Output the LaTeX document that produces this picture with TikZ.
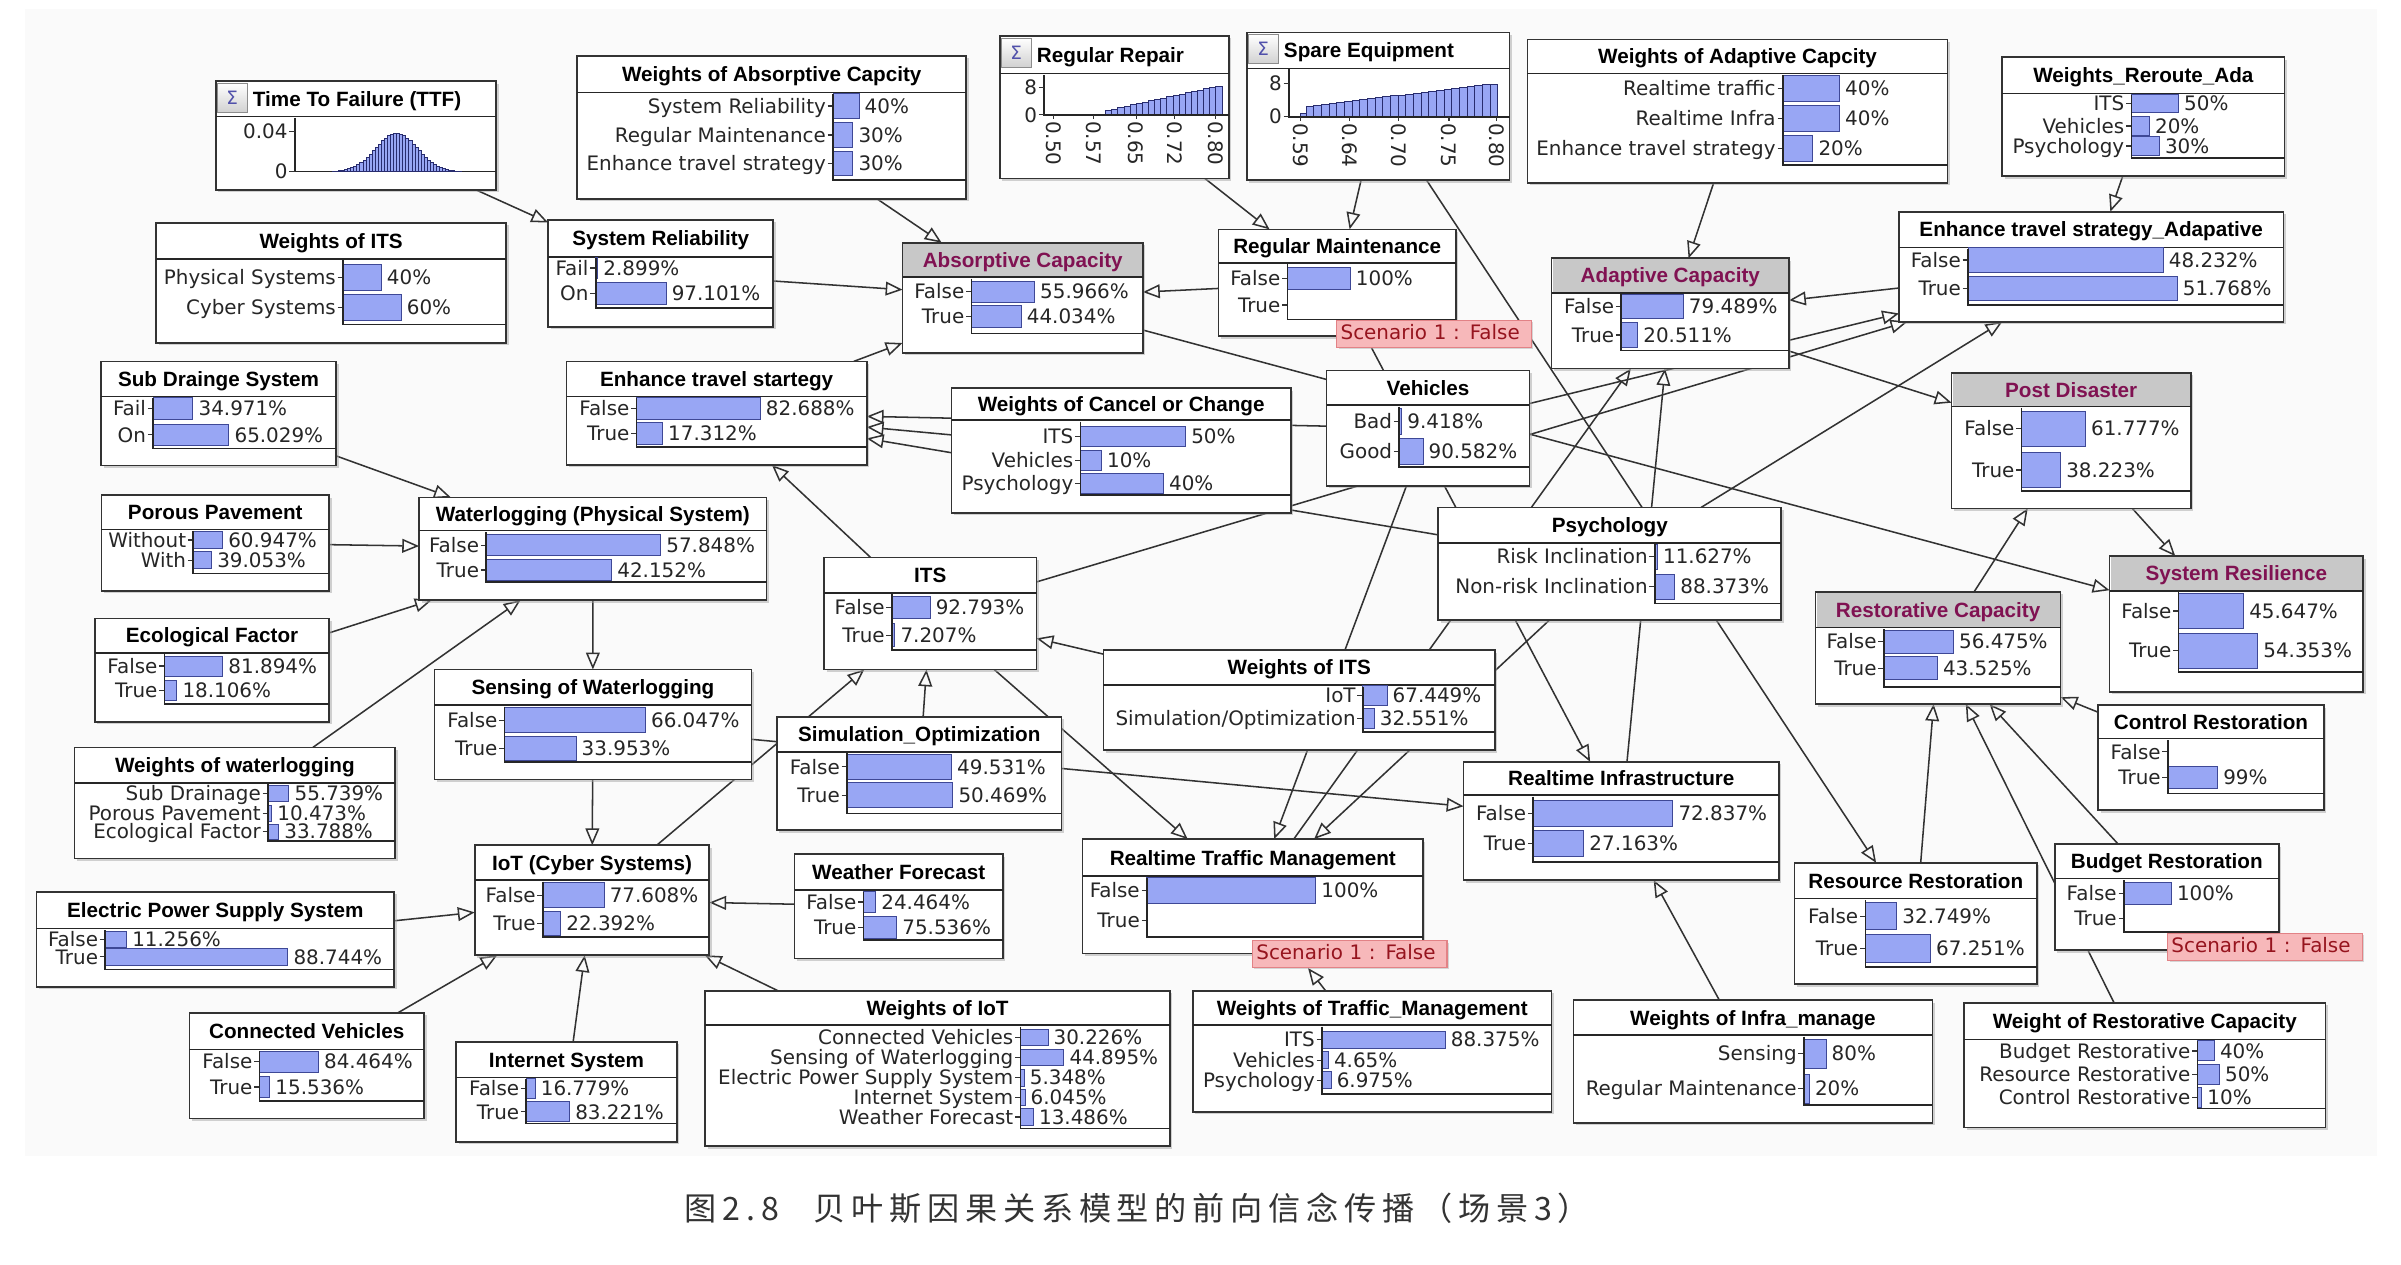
\documentclass[tikz,border=0pt]{standalone}
\usepackage{fontspec}
\setmainfont{DejaVu Sans}
\newfontfamily\titlefont{Liberation Sans}
\newfontfamily\cjkfont[LetterSpace=18]{Noto Sans CJK SC}
\usetikzlibrary{arrows.meta,positioning,shadows,backgrounds}

\definecolor{bnbar}{RGB}{152,166,244}
\definecolor{bnbarline}{RGB}{62,72,150}
\definecolor{bnnavy}{RGB}{40,44,110}
\definecolor{bnpurple}{RGB}{128,18,82}
\definecolor{bnband}{RGB}{200,200,200}
\definecolor{bnsig}{RGB}{80,80,170}
\definecolor{scenfill}{RGB}{247,184,186}
\definecolor{scenline}{RGB}{226,130,134}
\definecolor{scentext}{RGB}{150,20,30}
\definecolor{linkgray}{RGB}{50,50,50}
\definecolor{panel}{RGB}{250,250,250}

% box with title rule: name, x, y, width, height, rule offset, title
\newcommand{\bnbox}[7]{%
  \node[bnbox, minimum width=#4pt, minimum height=#5pt] (#1) at (#2,#3) {};
  \draw[bnrule] (#2,#3+#6) -- (#2+#4,#3+#6);
  \node[bntitle] (#1-t) at (#2+#4/2,#3+#6/2+4.8) {#7};}
% same, grey band and purple title
\newcommand{\bncap}[7]{%
  \node[bnbox, minimum width=#4pt, minimum height=#5pt] (#1) at (#2,#3) {};
  \fill[bnband] (#2+0.6,#3+0.6) rectangle (#2+#4-0.6,#3+#6);
  \draw[bnrule] (#2,#3+#6) -- (#2+#4,#3+#6);
  \node[bntitle, text=bnpurple] (#1-t) at (#2+#4/2,#3+#6/2+4.8) {#7};}
% box with sigma icon
\newcommand{\bnchart}[7]{%
  \node[bnbox, minimum width=#4pt, minimum height=#5pt] (#1) at (#2,#3) {};
  \draw[bnrule] (#2,#3+#6) -- (#2+#4,#3+#6);
  \node[sigbox] (#1-sig) at (#2+1,#3+1) {Σ};
  \node[bntitle, anchor=base west] (#1-t) at (#2+24,#3+#6/2+4.8) {#7};}
% one state: name, index, bar x, y, bar length, state, value
\newcommand{\bnrow}[7]{%
  \node[bnlab] (#1-s#2) at (#3-4.5,#4+4.7) {#6};
  \draw[bntick] (#3-3.5,#4) -- (#3,#4);
  \ifdim #5pt>0pt \draw[bnbar] (#3,#4-\bnh/2) rectangle (#3+#5,#4+\bnh/2);\fi
  \node[bnval] (#1-v#2) at (#3+#5+3.5,#4+4.7) {#7};}
% bar axis: x, top, bottom, right end
\newcommand{\bnaxis}[4]{\draw[bnaxis] (#1,#2) -- (#1,#3) -- (#4,#3);}

\begin{document}
\begin{tikzpicture}[x=1pt,y=-1pt,
  bnbox/.style={draw=black!80, fill=white, line width=1.1pt, anchor=north west, inner sep=0pt, outer sep=0pt,
    drop shadow={shadow xshift=1.6pt, shadow yshift=-1.6pt, fill=black!35}},
  bnrule/.style={draw=black!85, line width=1pt},
  bnband/.style={fill=bnband},
  bntitle/.style={anchor=base, inner sep=0pt, font=\titlefont\bfseries\fontsize{13.5}{15}\selectfont},
  bnlab/.style={anchor=base east, inner sep=0pt, font=\fontsize{13}{15}\selectfont, text=black!85},
  bnval/.style={anchor=base west, inner sep=0pt, font=\fontsize{13}{15}\selectfont, text=black!85},
  bntick/.style={draw=black!80, line width=0.8pt},
  bnbar/.style={fill=bnbar, draw=bnbarline, line width=0.6pt},
  bnaxis/.style={draw=black!85, line width=1.1pt},
  chartbar/.style={fill=bnbar, draw=bnnavy, line width=0.5pt},
  sigbox/.style={anchor=north west, minimum width=19pt, minimum height=19pt, inner sep=0pt, draw=black!45,
    top color=white, bottom color=black!18, text=bnsig, font=\fontsize{12}{12}\selectfont},
  scen/.style={anchor=north west, draw=scenline, fill=scenfill, text=scentext, line width=0.8pt,
    minimum height=17.5pt, text width=122pt, inner xsep=2.5pt, inner ysep=0pt, align=left,
    text height=9.5pt, text depth=2.5pt, font=\fontsize{13}{15}\selectfont,
    drop shadow={shadow xshift=1.2pt, shadow yshift=-1.2pt, fill=black!30}},
  link/.style={draw=linkgray, line width=1pt, -{Triangle[open, length=11pt, width=9pt]}},
  caption/.style={anchor=base west, inner sep=0pt, font=\cjkfont\fontsize{21}{25}\selectfont, text=black!80}]
\useasboundingbox (0,0) rectangle (1568,826);

% continuous nodes
\bnchart{ttf}{141}{53}{183}{71}{23}{Time To Failure (TTF)}
\draw[bnaxis] (192.5,77) -- (192.5,112) -- (324,112);
\foreach \yy/\lab [count=\k] in {86/0.04,112/0} {\draw[bntick] (189,\yy) -- (192.5,\yy); \node[bnlab] (ttf-y\k) at (188,\yy+4.7) {\lab};}
\foreach \bx in {218,220,...,300} {\pgfmathsetmacro\bnhh{25*exp(-((\bx-259)*(\bx-259))/364.5)}
  \draw[chartbar] (\bx-1,112) rectangle (\bx+1,112-\bnhh);}

\bnchart{rrepair}{653}{23.5}{149.5}{93}{24.5}{Regular Repair}
\foreach \bx in {722,726,...,794} {\pgfmathsetmacro\bnhh{min(3+(\bx-722)*0.22,20)}
  \draw[chartbar] (\bx,75) rectangle (\bx+4,75-\bnhh);}
\draw[bnaxis] (682,49) -- (682,75) -- (802.5,75);
\foreach \yy/\lab [count=\k] in {57/8,75/0} {\draw[bntick] (678.5,\yy) -- (682,\yy); \node[bnlab] (rrepair-y\k) at (677.5,\yy+4.7) {\lab};}
\foreach \xx/\lab [count=\k] in {688/0.50,714/0.57,742/0.65,767/0.72,794/0.80} {\draw[bntick] (\xx,75) -- (\xx,78);
  \node[bnlab, anchor=west, rotate=-90] (rrepair-x\k) at (\xx,79) {\lab};}

\bnchart{spare}{814.3}{21.3}{171.5}{96.3}{23.3}{Spare Equipment}
\draw[chartbar] (849,76.2) rectangle (853,74);
\foreach \bx in {853,858,...,973} {\pgfmathsetmacro\bnhh{7+(\bx-853)*0.12}
  \draw[chartbar] (\bx,76.2) rectangle (\bx+5,76.2-\bnhh);}
\draw[bnaxis] (841.8,45) -- (841.8,76.2) -- (985.8,76.2);
\foreach \yy/\lab [count=\k] in {54.4/8,76.2/0} {\draw[bntick] (838.3,\yy) -- (841.8,\yy); \node[bnlab] (spare-y\k) at (837.3,\yy+4.7) {\lab};}
\foreach \xx/\lab [count=\k] in {849.3/0.59,881.3/0.64,913.3/0.70,946.3/0.75,977.5/0.80} {\draw[bntick] (\xx,76.2) -- (\xx,79.2);
  \node[bnlab, anchor=west, rotate=-90] (spare-x\k) at (\xx,80.2) {\lab};}

% weights and states, left part
\bnbox{witsa}{102}{145.5}{228.5}{78.5}{23.5}{Weights of ITS}
\def\bnh{17}
\bnrow{witsa}{1}{224}{181}{25}{Physical Systems}{40\%}
\bnrow{witsa}{2}{224}{201}{38}{Cyber Systems}{60\%}
\bnaxis{224}{170}{212}{330.5}

\bnbox{wabs}{377}{36.6}{254}{93.2}{23.9}{Weights of Absorptive Capcity}
\def\bnh{16}
\bnrow{wabs}{1}{544}{69.2}{17}{System Reliability}{40\%}
\bnrow{wabs}{2}{544}{88.2}{13}{Regular Maintenance}{30\%}
\bnrow{wabs}{3}{544}{106.7}{13}{Enhance travel strategy}{30\%}
\bnaxis{544}{61.5}{117.6}{631}

\bnbox{sysrel}{358}{143.7}{147}{69.7}{24}{System Reliability}
\def\bnh{14}
\bnrow{sysrel}{1}{389}{175}{1.4}{Fail}{2.899\%}
\bnrow{sysrel}{2}{389}{191.6}{46}{On}{97.101\%}
\bnaxis{389}{168.7}{201}{505}

\bncap{absorb}{589.4}{158.5}{157}{72}{22.5}{Absorptive Capacity}
\bnrow{absorb}{1}{634.4}{190.5}{41.2}{False}{55.966\%}
\bnrow{absorb}{2}{634.4}{206.8}{32.5}{True}{44.034\%}
\bnaxis{634.4}{182}{217.7}{746.4}

\bnbox{ets}{370}{236}{196}{67.7}{23}{Enhance travel startegy}
\bnrow{ets}{1}{415.7}{266.7}{80.8}{False}{82.688\%}
\bnrow{ets}{2}{415.7}{283}{17}{True}{17.312\%}
\bnaxis{415.7}{260}{291.8}{566}

\bnbox{wcc}{621.4}{253.6}{221.6}{81.3}{20.7}{Weights of Cancel or Change}
\def\bnh{13}
\bnrow{wcc}{1}{705.6}{285}{68.7}{ITS}{50\%}
\bnrow{wcc}{2}{705.6}{300.5}{13.7}{Vehicles}{10\%}
\bnrow{wcc}{3}{705.6}{315.7}{54.2}{Psychology}{40\%}
\bnaxis{705.6}{275.3}{323.3}{843}

\bnbox{regmaint}{795.8}{149.8}{155}{69.7}{21.8}{Regular Maintenance}
\def\bnh{14}
\bnrow{regmaint}{1}{840.8}{181.8}{41}{False}{100\%}
\bnrow{regmaint}{2}{840.8}{199.2}{0}{True}{}
\bnaxis{840.8}{172.6}{208.6}{950.8}

\bnbox{vehicles}{866.3}{242}{132.5}{75.4}{22.5}{Vehicles}
\def\bnh{17}
\bnrow{vehicles}{1}{913.8}{275.4}{1.6}{Bad}{9.418\%}
\bnrow{vehicles}{2}{913.8}{295}{15.5}{Good}{90.582\%}
\bnaxis{913.8}{265.5}{305.2}{998.8}

\bnbox{psych}{939.3}{331.4}{224}{73.6}{23.1}{Psychology}
\def\bnh{16}
\bnrow{psych}{1}{1080.7}{363.6}{1.7}{Risk Inclination}{11.627\%}
\bnrow{psych}{2}{1080.7}{383.2}{13}{Non-risk Inclination}{88.373\%}
\bnaxis{1080.7}{355.5}{394.1}{1163.3}

\bnbox{witsb}{720.6}{424.6}{255.7}{65.3}{22.8}{Weights of ITS}
\def\bnh{13}
\bnrow{witsb}{1}{890}{454}{15.8}{IoT}{67.449\%}
\bnrow{witsb}{2}{890}{469.2}{7.5}{Simulation/Optimization}{32.551\%}
\bnaxis{890}{448.4}{477.9}{976.3}

\bnbox{its}{538.2}{364}{138.7}{73.2}{23.1}{ITS}
\def\bnh{15}
\bnrow{its}{1}{582.4}{396.7}{25}{False}{92.793\%}
\bnrow{its}{2}{582.4}{414.8}{2}{True}{7.207\%}
\bnaxis{582.4}{388}{424.6}{676.9}

\bnbox{simopt}{507.4}{468.1}{185.8}{74}{22.9}{Simulation\_Optimization}
\def\bnh{16}
\bnrow{simopt}{1}{553.1}{500.8}{68.3}{False}{49.531\%}
\bnrow{simopt}{2}{553.1}{519.3}{69.2}{True}{50.469\%}
\bnaxis{553.1}{492}{531.2}{693.2}

\bnbox{rtm}{707}{548}{222.3}{74.7}{24.2}{Realtime Traffic Management}
\def\bnh{17}
\bnrow{rtm}{1}{749}{581.3}{110.3}{False}{100\%}
\bnrow{rtm}{2}{749}{601}{0}{True}{}
\bnaxis{749}{573.2}{611.8}{929.3}

\bnbox{wtm}{779}{647.1}{234.3}{79}{22.4}{Weights of Traffic\_Management}
\def\bnh{11}
\bnrow{wtm}{1}{863.3}{678.9}{80.5}{ITS}{88.375\%}
\bnrow{wtm}{2}{863.3}{692.4}{4.2}{Vehicles}{4.65\%}
\bnrow{wtm}{3}{863.3}{705.4}{6}{Psychology}{6.975\%}
\bnaxis{863.3}{670.5}{714.6}{1013.3}

\bnbox{rinfra}{955.8}{497.5}{206}{77.3}{21.8}{Realtime Infrastructure}
\def\bnh{17}
\bnrow{rinfra}{1}{1001.3}{531.2}{91.2}{False}{72.837\%}
\bnrow{rinfra}{2}{1001.3}{550.8}{33}{True}{27.163\%}
\bnaxis{1001.3}{520.3}{562.8}{1161.8}

\bnbox{winfra}{1027.5}{653.2}{234.5}{80.1}{22.8}{Weights of Infra\_manage}
\def\bnh{19}
\bnrow{winfra}{1}{1178}{688}{14.5}{Sensing}{80\%}
\bnrow{winfra}{2}{1178}{710.9}{3.6}{Regular Maintenance}{20\%}
\bnaxis{1178}{677}{721.8}{1262}

% right part
\bnbox{wada}{997.5}{25.7}{274.4}{93.6}{22.2}{Weights of Adaptive Capcity}
\def\bnh{17}
\bnrow{wada}{1}{1164.3}{57.7}{37}{Realtime traffic}{40\%}
\bnrow{wada}{2}{1164.3}{77.3}{37}{Realtime Infra}{40\%}
\bnrow{wada}{3}{1164.3}{96.9}{19.6}{Enhance travel strategy}{20\%}
\bnaxis{1164.3}{49}{107.8}{1271.9}

\bncap{adapt}{1013.3}{168.7}{155}{72}{22.5}{Adaptive Capacity}
\def\bnh{16}
\bnrow{adapt}{1}{1058.8}{200.3}{40.5}{False}{79.489\%}
\bnrow{adapt}{2}{1058.8}{218.8}{10.7}{True}{20.511\%}
\bnaxis{1058.8}{192.2}{229}{1168.3}

\bnbox{wrr}{1307.6}{37.4}{184.3}{77.6}{23.6}{Weights\_Reroute\_Ada}
\def\bnh{12}
\bnrow{wrr}{1}{1391.9}{67.5}{30.8}{ITS}{50\%}
\bnrow{wrr}{2}{1391.9}{82.3}{11.8}{Vehicles}{20\%}
\bnrow{wrr}{3}{1391.9}{95.4}{18.3}{Psychology}{30\%}
\bnaxis{1391.9}{62}{103.4}{1491.9}

\bnbox{etsa}{1240.2}{138.3}{251}{71.8}{23.3}{Enhance travel strategy\_Adapative}
\def\bnh{16}
\bnrow{etsa}{1}{1285.2}{169.8}{127.5}{False}{48.232\%}
\bnrow{etsa}{2}{1285.2}{188.3}{136.7}{True}{51.768\%}
\bnaxis{1285.2}{162.6}{199.2}{1491.2}

\bncap{postdis}{1274.5}{243.4}{156.2}{88.6}{22.2}{Post Disaster}
\def\bnh{23}
\bnrow{postdis}{1}{1320.2}{280}{41.7}{False}{61.777\%}
\bnrow{postdis}{2}{1320.2}{307}{25.5}{True}{38.223\%}
\bnaxis{1320.2}{266.6}{320.5}{1430.7}

\bncap{sysres}{1377.7}{363.2}{165.5}{88.6}{22.6}{System Resilience}
\bnrow{sysres}{1}{1422.7}{399}{42.5}{False}{45.647\%}
\bnrow{sysres}{2}{1422.7}{425}{51.7}{True}{54.353\%}
\bnaxis{1422.7}{386.8}{438.7}{1543.2}

\bncap{restor}{1185.7}{386.5}{160}{73.3}{23.3}{Restorative Capacity}
\def\bnh{15}
\bnrow{restor}{1}{1230.2}{419}{45.5}{False}{56.475\%}
\bnrow{restor}{2}{1230.2}{436.5}{35}{True}{43.525\%}
\bnaxis{1230.2}{410.8}{448.5}{1345.7}

\bnbox{ctrlrest}{1370.2}{460.5}{147.4}{68.6}{21.8}{Control Restoration}
\def\bnh{14}
\bnrow{ctrlrest}{1}{1415.7}{491}{0}{False}{}
\bnrow{ctrlrest}{2}{1415.7}{507.7}{32.5}{True}{99\%}
\bnaxis{1415.7}{483.3}{518.2}{1517.6}

\bnbox{budget}{1341.9}{551.3}{146.3}{69.2}{22.4}{Budget Restoration}
\bnrow{budget}{1}{1387}{583.5}{31}{False}{100\%}
\bnrow{budget}{2}{1387}{599.8}{0}{True}{}
\bnaxis{1387}{574.7}{608.6}{1488.2}

\bnbox{resrest}{1172}{563.5}{158.2}{79.2}{23.3}{Resource Restoration}
\def\bnh{18}
\bnrow{resrest}{1}{1218.2}{598.3}{20.5}{False}{32.749\%}
\bnrow{resrest}{2}{1218.2}{619.4}{42.5}{True}{67.251\%}
\bnaxis{1218.2}{587.8}{631.4}{1330.2}

\bnbox{wrest}{1282.7}{654.9}{236}{81.4}{24}{Weight of Restorative Capacity}
\def\bnh{13}
\bnrow{wrest}{1}{1435.1}{686.3}{11}{Budget Restorative}{40\%}
\bnrow{wrest}{2}{1435.1}{701.5}{14.3}{Resource Restorative}{50\%}
\bnrow{wrest}{3}{1435.1}{716.7}{2.8}{Control Restorative}{10\%}
\bnaxis{1435.1}{679.9}{723.9}{1518.7}

% physical and cyber systems
\bnbox{subdr}{66}{236}{153.5}{68}{23}{Sub Drainge System}
\def\bnh{14}
\bnrow{subdr}{1}{100}{266.7}{26}{Fail}{34.971\%}
\bnrow{subdr}{2}{100}{284}{49.5}{On}{65.029\%}
\bnaxis{100}{260}{293}{219.5}

\bnbox{porous}{66.2}{323.3}{148.8}{62.5}{22.4}{Porous Pavement}
\def\bnh{11}
\bnrow{porous}{1}{126.2}{352.7}{19.2}{Without}{60.947\%}
\bnrow{porous}{2}{126.2}{365.8}{12}{With}{39.053\%}
\bnaxis{126.2}{346.7}{374.5}{215}

\bnbox{ecol}{62}{403.9}{153}{67.5}{22.4}{Ecological Factor}
\def\bnh{13}
\bnrow{ecol}{1}{107.5}{435}{38}{False}{81.894\%}
\bnrow{ecol}{2}{107.5}{450.7}{8}{True}{18.106\%}
\bnaxis{107.5}{427.3}{459.8}{215}

\bnbox{wwater}{48.7}{488.1}{209.3}{72.5}{23.1}{Weights of waterlogging}
\def\bnh{10}
\bnrow{wwater}{1}{175}{518.2}{13.7}{Sub Drainage}{55.739\%}
\bnrow{wwater}{2}{175}{531.2}{2.5}{Porous Pavement}{10.473\%}
\bnrow{wwater}{3}{175}{543.2}{7}{Ecological Factor}{33.788\%}
\bnaxis{175}{512.2}{549.1}{258}

\bnbox{waterlog}{273.7}{324.8}{226.9}{67.1}{21.8}{Waterlogging (Physical System)}
\def\bnh{14}
\bnrow{waterlog}{1}{317.5}{356}{114}{False}{57.848\%}
\bnrow{waterlog}{2}{317.5}{372.3}{82}{True}{42.152\%}
\bnaxis{317.5}{347.6}{379.9}{500.6}

\bnbox{sensing}{283.7}{437.2}{207}{71.8}{23.3}{Sensing of Waterlogging}
\def\bnh{16}
\bnrow{sensing}{1}{329.5}{470.3}{92}{False}{66.047\%}
\bnrow{sensing}{2}{329.5}{488.8}{46.7}{True}{33.953\%}
\bnaxis{329.5}{461.5}{497.5}{490.7}

\bnbox{iot}{310}{552}{153.2}{71.8}{22.8}{IoT (Cyber Systems)}
\bnrow{iot}{1}{354.5}{584.6}{40}{False}{77.608\%}
\bnrow{iot}{2}{354.5}{603.1}{11.7}{True}{22.392\%}
\bnaxis{354.5}{575.8}{611.8}{463.2}

\bnbox{eps}{23.8}{582.4}{233.7}{62.1}{24}{Electric Power Supply System}
\def\bnh{11}
\bnrow{eps}{1}{68.7}{613.5}{14}{False}{11.256\%}
\bnrow{eps}{2}{68.7}{624.9}{119.3}{True}{88.744\%}
\bnaxis{68.7}{607.4}{633.1}{257.5}

\bnbox{conveh}{123.7}{661.4}{153.3}{69.1}{24}{Connected Vehicles}
\def\bnh{14}
\bnrow{conveh}{1}{169.5}{693.4}{38.5}{False}{84.464\%}
\bnrow{conveh}{2}{169.5}{709.8}{6.7}{True}{15.536\%}
\bnaxis{169.5}{686.4}{719.1}{277}

\bnbox{internet}{298}{680.4}{143.9}{65.3}{23.3}{Internet System}
\def\bnh{13}
\bnrow{internet}{1}{343.7}{710.9}{5.8}{False}{16.779\%}
\bnrow{internet}{2}{343.7}{726.1}{28.3}{True}{83.221\%}
\bnaxis{343.7}{704.7}{733.7}{441.9}

\bnbox{weather}{518.9}{557.8}{136}{68.1}{23.5}{Weather Forecast}
\def\bnh{14}
\bnrow{weather}{1}{563.9}{589}{8}{False}{24.464\%}
\bnrow{weather}{2}{563.9}{605.7}{21.7}{True}{75.536\%}
\bnaxis{563.9}{582.3}{614}{654.9}

\bnbox{wiot}{460.6}{647.1}{303.3}{101.4}{22.4}{Weights of IoT}
\def\bnh{11}
\bnrow{wiot}{1}{666.4}{677.5}{18}{Connected Vehicles}{30.226\%}
\bnrow{wiot}{2}{666.4}{690.6}{28.4}{Sensing of Waterlogging}{44.895\%}
\bnrow{wiot}{3}{666.4}{703.7}{2.5}{Electric Power Supply System}{5.348\%}
\bnrow{wiot}{4}{666.4}{716.7}{3}{Internet System}{6.045\%}
\bnrow{wiot}{5}{666.4}{729.4}{8.5}{Weather Forecast}{13.486\%}
\bnaxis{666.4}{670.5}{737}{763.9}

% findings
\node[scen] (regmaint-sc) at (872.6,209) {Scenario 1 : False};
\node[scen] (rtm-sc) at (817.6,614) {Scenario 1 : False};
\node[scen] (budget-sc) at (1415.2,609.2) {Scenario 1 : False};

% links
\begin{scope}[on background layer]
\fill[panel] (16,6) rectangle (1552,755);
\foreach \a/\b in {ttf/sysrel, wabs/absorb, sysrel/absorb, ets/absorb, regmaint/absorb,
    rrepair/regmaint, spare/regmaint, spare/resrest, wada/adapt, wrr/etsa, etsa/adapt,
    adapt/postdis, absorb/sysres, postdis/sysres, restor/postdis, ctrlrest/restor,
    resrest/restor, budget/restor, wrest/restor, regmaint/rinfra, sensing/rinfra,
    winfra/rinfra, rtm/adapt, rinfra/adapt, its/etsa, vehicles/etsa, psych/etsa,
    vehicles/ets, wcc/ets, psych/ets, its/ets, its/rtm, vehicles/rtm, psych/rtm,
    witsb/its, simopt/its, iot/its, subdr/waterlog, porous/waterlog, ecol/waterlog,
    wwater/waterlog, waterlog/sensing, sensing/iot, eps/iot, conveh/iot,
    internet/iot, weather/iot, wiot/iot}
  \draw[link] (\a) -- (\b);
\draw[link, shorten >=12pt] (wtm) -- (rtm);
\end{scope}

% caption
\node[caption] (cap-no) at (447,797) {图2.8};
\node[caption] (cap-text) at (531,797) {贝叶斯因果关系模型的前向信念传播（场景3）};
\end{tikzpicture}
\end{document}
